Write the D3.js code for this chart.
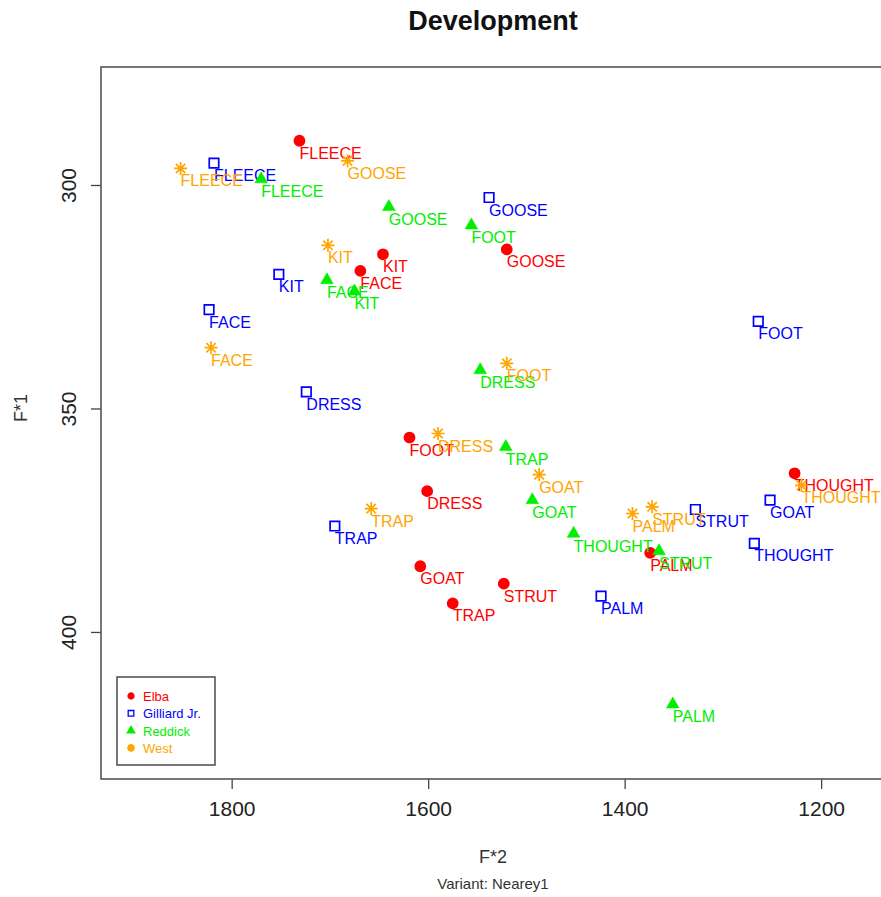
<!DOCTYPE html>
<html>
<head>
<meta charset="utf-8">
<script src="https://cdn.jsdelivr.net/npm/d3@7"></script>
<style>
body { margin: 0; background: #fff; overflow: hidden; }
text { font-family: "Liberation Sans", Arial, sans-serif; }
</style>
</head>
<body>
<svg id="chart"></svg>
<script>
// vowel categories (same order for every speaker)
const words = ["FLEECE", "GOOSE", "KIT", "FACE", "FOOT", "DRESS", "TRAP", "GOAT", "THOUGHT", "STRUT", "PALM"];

// normalised formants per speaker
const elbaF2 = [1731, 1520, 1646, 1669, 1619, 1601, 1575, 1608, 1227, 1523, 1374];
const elbaF1 = [290.1, 314.4, 315.5, 319.2, 356.5, 368.5, 393.6, 385.3, 364.5, 389.2, 382.3];

const gilliardF2 = [1818, 1538, 1752, 1823, 1264, 1724, 1695, 1252, 1268, 1328, 1424];
const gilliardF1 = [295.1, 302.8, 320.0, 327.9, 330.5, 346.3, 376.3, 370.5, 380.2, 372.6, 392.0];

const reddickF2 = [1770, 1640, 1675, 1703, 1556, 1547, 1521, 1494, 1452, 1365, 1351];
const reddickF1 = [298.7, 304.9, 323.8, 321.3, 309.0, 341.4, 358.6, 370.5, 378.0, 381.9, 416.2];

const westF2 = [1852, 1682, 1702, 1821, 1520, 1590, 1658, 1487, 1220, 1372, 1392];
const westF1 = [296.3, 294.6, 313.5, 336.4, 339.9, 355.6, 372.4, 364.8, 367.2, 372.0, 373.5];

const speakers = ["Elba", "Gilliard Jr.", "Reddick", "West"];
const xTicks = [1800, 1600, 1400, 1200];
const yTicks = [300, 350, 400];

const series = [
    {name: speakers[0], f2: elbaF2, f1: elbaF1, color: "#ff0000", shape: "circle"},
    {name: speakers[1], f2: gilliardF2, f1: gilliardF1, color: "#0000ff", shape: "square"},
    {name: speakers[2], f2: reddickF2, f1: reddickF1, color: "#00ee00", shape: "triangle"},
    {name: speakers[3], f2: westF2, f1: westF1, color: "#ffa500", shape: "star"}
];

// layout
const margin = {top: 67, right: 0, bottom: 118, left: 101};
const width = 784;
const height = 712;

const svg = d3.select('#chart')
    .attr('width', 881)
    .attr('height', 897);

const g = svg.append('g')
    .attr('transform', 'translate(' + margin.left + ',' + margin.top + ')');

// reversed axes, as in a vowel plot
const x = d3.scaleLinear().domain([1933, 1135]).range([0, width]);
const y = d3.scaleLinear().domain([273.6, 432.9]).range([0, height]);

// x axis
const xAxis = g.append('g')
    .attr('transform', 'translate(0,' + height + ')')
    .call(d3.axisBottom(x).tickValues(xTicks).tickSize(10).tickSizeOuter(0).tickPadding(12).tickFormat(d3.format('d')));
xAxis.select('.domain').remove();
xAxis.selectAll('line').attr('stroke', '#444').attr('stroke-width', 1.3);
xAxis.selectAll('text')
    .attr('font-size', 21)
    .attr('fill', '#222')
    .attr('font-family', '"Liberation Sans", Arial, sans-serif');

// y axis, labels turned like R
const yAxis = g.append('g')
    .call(d3.axisLeft(y).tickValues(yTicks).tickSize(10).tickSizeOuter(0).tickFormat(d3.format('d')));
yAxis.select('.domain').remove();
yAxis.selectAll('line').attr('stroke', '#444').attr('stroke-width', 1.3);
yAxis.selectAll('text')
    .attr('x', null)
    .attr('dy', null)
    .attr('font-size', 21)
    .attr('fill', '#222')
    .attr('font-family', '"Liberation Sans", Arial, sans-serif')
    .attr('text-anchor', 'middle')
    .attr('transform', 'translate(-25,0) rotate(-90)');

// box
g.append('rect')
    .attr('width', width)
    .attr('height', height)
    .attr('fill', 'none')
    .attr('stroke', '#555')
    .attr('stroke-width', 1.6);

// symbols
function symbolPath(shape, s) {
    if (shape === 'circle') return d3.symbol(d3.symbolCircle, 80 * s)();
    if (shape === 'square') return d3.symbol(d3.symbolSquare, 90 * s)();
    if (shape === 'triangle') return d3.symbol(d3.symbolTriangle, 70 * s)();
    const r = 6.5 * Math.sqrt(s), q = r * 0.72;
    return 'M' + (-r) + ',0L' + r + ',0M0,' + (-r) + 'L0,' + r +
        'M' + (-q) + ',' + (-q) + 'L' + q + ',' + q + 'M' + (-q) + ',' + q + 'L' + q + ',' + (-q);
}

series.forEach(function(s) {
    const pts = words.map(function(w, i) {
        return {word: w, f2: s.f2[i], f1: s.f1[i]};
    });
    const sg = g.append('g');
    sg.selectAll('path')
        .data(pts)
        .enter()
        .append('path')
        .attr('d', symbolPath(s.shape, 1))
        .attr('transform', function(d) { return 'translate(' + x(d.f2) + ',' + y(d.f1) + ')'; })
        .attr('fill', (s.shape === 'circle' || s.shape === 'triangle') ? s.color : 'none')
        .attr('stroke', s.color)
        .attr('stroke-width', s.shape === 'triangle' ? 0.5 : 1.7);
    sg.selectAll('text')
        .data(pts)
        .enter()
        .append('text')
        .attr('x', function(d) { return x(d.f2); })
        .attr('y', function(d) { return y(d.f1) + 18; })
        .attr('font-size', 16)
        .attr('fill', s.color)
        .text(function(d) { return d.word; });
});

// legend
const legend = g.append('g').attr('transform', 'translate(16,610)');
legend.append('rect')
    .attr('width', 98)
    .attr('height', 88)
    .attr('fill', '#fff')
    .attr('stroke', '#555')
    .attr('stroke-width', 1.6);
series.forEach(function(s, i) {
    const row = legend.append('g').attr('transform', 'translate(14,' + (19 + i * 17.3) + ')');
    row.append('path')
        .attr('d', symbolPath(s.shape, 0.35))
        .attr('fill', (s.shape === 'circle' || s.shape === 'triangle') ? s.color : 'none')
        .attr('stroke', s.color)
        .attr('stroke-width', s.shape === 'star' ? 2.2 : 1.3);
    row.append('text')
        .attr('x', 12)
        .attr('y', 5)
        .attr('font-size', 13)
        .attr('fill', s.color)
        .text(s.name);
});

// titles
svg.append('text')
    .attr('x', 493)
    .attr('y', 30)
    .attr('text-anchor', 'middle')
    .attr('font-size', 27)
    .attr('font-weight', 'bold')
    .attr('fill', '#111')
    .text('Development');

svg.append('text')
    .attr('x', 493)
    .attr('y', 863)
    .attr('text-anchor', 'middle')
    .attr('font-size', 18)
    .attr('fill', '#333')
    .text('F*2');

svg.append('text')
    .attr('x', 493)
    .attr('y', 889)
    .attr('text-anchor', 'middle')
    .attr('font-size', 15)
    .attr('fill', '#333')
    .text('Variant: Nearey1');

svg.append('text')
    .attr('transform', 'translate(27,408) rotate(-90)')
    .attr('text-anchor', 'middle')
    .attr('font-size', 18)
    .attr('fill', '#333')
    .text('F*1');
</script>
</body>
</html>
